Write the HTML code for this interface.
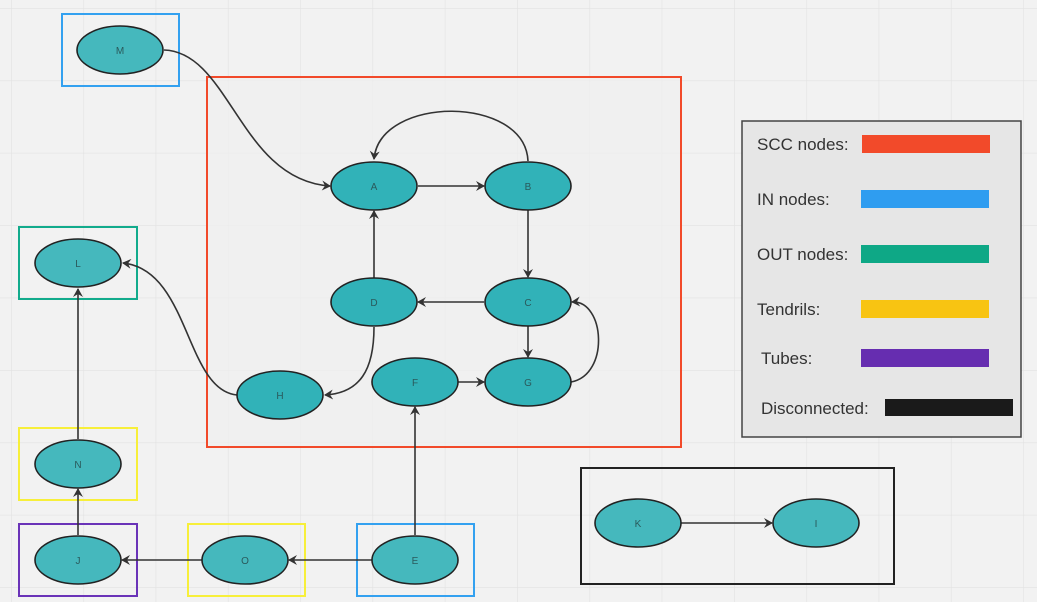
<!DOCTYPE html>
<html><head><meta charset="utf-8"><style>
html,body{margin:0;padding:0;background:#f2f2f2;}
svg{display:block;}
text{font-family:"Liberation Sans",sans-serif;}
</style></head><body>
<svg width="1037" height="602" viewBox="0 0 1037 602" xmlns="http://www.w3.org/2000/svg">
<defs>
<pattern id="g" x="11" y="8" width="72.3" height="72.4" patternUnits="userSpaceOnUse">
<path d="M0 0V72.4M0 0H72.3" stroke="#e2e2e2" stroke-width="1.2" fill="none"/>
</pattern>
<marker id="ar" markerWidth="10" markerHeight="10" refX="8" refY="5" orient="auto" markerUnits="userSpaceOnUse">
<path d="M0,0 L9,5 L0,10 L3,5 Z" fill="#333"/>
</marker>
</defs>
<rect width="1037" height="602" fill="#f2f2f2"/>
<rect width="1037" height="602" fill="url(#g)"/>
<!-- SCC frame -->
<rect x="207" y="77" width="474" height="370" fill="#efefef" fill-opacity="0.7" stroke="#f24a2a" stroke-width="2"/>
<rect x="62" y="14" width="117" height="72" fill="none" stroke="#33a1f0" stroke-width="2"/>
<rect x="19" y="227" width="118" height="72" fill="none" stroke="#12ab8c" stroke-width="2"/>
<rect x="19" y="428" width="118" height="72" fill="none" stroke="#f7ef3a" stroke-width="2"/>
<rect x="19" y="524" width="118" height="72" fill="none" stroke="#6a33b8" stroke-width="2"/>
<rect x="188" y="524" width="117" height="72" fill="none" stroke="#f7ef3a" stroke-width="2"/>
<rect x="357" y="524" width="117" height="72" fill="none" stroke="#33a1f0" stroke-width="2"/>
<rect x="581" y="468" width="313" height="116" fill="none" stroke="#222" stroke-width="2"/>
<!-- legend -->
<rect x="742" y="121" width="279" height="316" fill="#e6e6e6" stroke="#444" stroke-width="1.5"/>
<g font-size="17" fill="#333">
<text x="757" y="150">SCC nodes:</text>
<text x="757" y="205">IN nodes:</text>
<text x="757" y="260">OUT nodes:</text>
<text x="757" y="315">Tendrils:</text>
<text x="761" y="364">Tubes:</text>
<text x="761" y="414">Disconnected:</text>
</g>
<rect x="862" y="135" width="128" height="18" fill="#f24a2a"/>
<rect x="861" y="190" width="128" height="18" fill="#2f9df0"/>
<rect x="861" y="245" width="128" height="18" fill="#0ea886"/>
<rect x="861" y="300" width="128" height="18" fill="#f8c412"/>
<rect x="861" y="349" width="128" height="18" fill="#662db0"/>
<rect x="885" y="399" width="128" height="17" fill="#1a1a1a"/>
<!-- edges -->
<g fill="none" stroke="#333" stroke-width="1.6" marker-end="url(#ar)">
<path d="M164,50 C230,52 240,180 330,186"/>
<path d="M418,186 L484,186"/>
<path d="M528,161 C525,95 380,95 374,159"/>
<path d="M528,210 L528,277"/>
<path d="M484,302 L418,302"/>
<path d="M374,278 L374,211"/>
<path d="M528,326 L528,357"/>
<path d="M571,382 C610,375 605,300 572,302"/>
<path d="M458,382 L484,382"/>
<path d="M374,327 C374,370 360,393 325,395"/>
<path d="M237,395 C185,390 190,270 123,263"/>
<path d="M78,439 L78,289"/>
<path d="M78,535 L78,489"/>
<path d="M202,560 L122,560"/>
<path d="M372,560 L289,560"/>
<path d="M415,535 L415,407"/>
<path d="M681,523 L772,523"/>
</g>
<!-- nodes -->
<g stroke="#222" stroke-width="1.6">
<ellipse cx="120" cy="50" rx="43" ry="24" fill="#45b8bd"/>
<ellipse cx="374" cy="186" rx="43" ry="24" fill="#31b2b8"/>
<ellipse cx="528" cy="186" rx="43" ry="24" fill="#31b2b8"/>
<ellipse cx="374" cy="302" rx="43" ry="24" fill="#31b2b8"/>
<ellipse cx="528" cy="302" rx="43" ry="24" fill="#31b2b8"/>
<ellipse cx="415" cy="382" rx="43" ry="24" fill="#31b2b8"/>
<ellipse cx="528" cy="382" rx="43" ry="24" fill="#31b2b8"/>
<ellipse cx="280" cy="395" rx="43" ry="24" fill="#31b2b8"/>
<ellipse cx="78" cy="263" rx="43" ry="24" fill="#45b8bd"/>
<ellipse cx="78" cy="464" rx="43" ry="24" fill="#45b8bd"/>
<ellipse cx="78" cy="560" rx="43" ry="24" fill="#45b8bd"/>
<ellipse cx="245" cy="560" rx="43" ry="24" fill="#45b8bd"/>
<ellipse cx="415" cy="560" rx="43" ry="24" fill="#45b8bd"/>
<ellipse cx="638" cy="523" rx="43" ry="24" fill="#45b8bd"/>
<ellipse cx="816" cy="523" rx="43" ry="24" fill="#45b8bd"/>
</g>
<g font-size="10" fill="#2a5a5c" text-anchor="middle">
<text x="120" y="54">M</text>
<text x="374" y="190">A</text>
<text x="528" y="190">B</text>
<text x="374" y="306">D</text>
<text x="528" y="306">C</text>
<text x="415" y="386">F</text>
<text x="528" y="386">G</text>
<text x="280" y="399">H</text>
<text x="78" y="267">L</text>
<text x="78" y="468">N</text>
<text x="78" y="564">J</text>
<text x="245" y="564">O</text>
<text x="415" y="564">E</text>
<text x="638" y="527">K</text>
<text x="816" y="527">I</text>
</g>
</svg>
</body></html>
